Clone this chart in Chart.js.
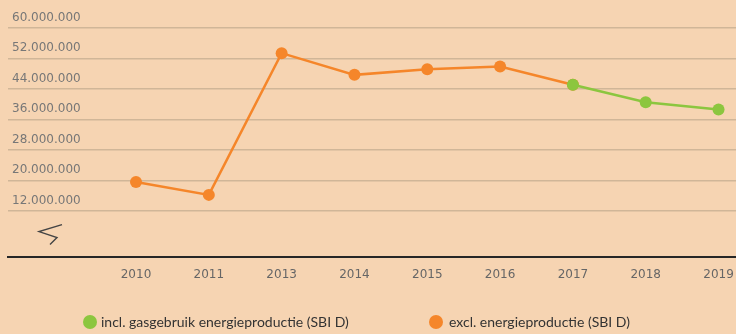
<!DOCTYPE html>
<html>
<head>
<meta charset="utf-8">
<script src="https://cdn.jsdelivr.net/npm/chart.js@4.4.1/dist/chart.umd.min.js"></script>
<style>
  html, body { margin: 0; padding: 0; background: #f6d4b2; }
  #wrap { position: relative; width: 736px; height: 334px; overflow: hidden; }
  #chart { position: absolute; left: 0; top: 0; }
  #legend { position: absolute; left: 0; top: 312px; width: 736px; height: 20px;
            font-family: Lato, "Liberation Sans", sans-serif; font-size: 14px; color: #333; }
  .item { position: absolute; top: 0; height: 20px; line-height: 20px; white-space: nowrap; }
  .dot { position: absolute; top: 3px; width: 14px; height: 14px; border-radius: 50%; }
</style>
</head>
<body>
<div id="wrap">
  <canvas id="chart" width="736" height="334"></canvas>
  <div id="legend"></div>
</div>
<script>
// Years on the horizontal axis (2012 is not in the series)
const categories = ['2010', '2011', '2013', '2014', '2015', '2016', '2017', '2018', '2019'];

// Gas use including energy production (SBI D), known from 2017 on
const inclValues = [null, null, null, null, null, null, 45100000, 40500000, 38600000];

// Gas use excluding energy production (SBI D)
const exclValues = [19600000, 16200000, 53400000, 47700000, 49200000, 49900000, 45100000, null, null];

// Gridline / tick values on the vertical axis
const yTickValues = [12000000, 20000000, 28000000, 36000000, 44000000, 52000000, 60000000];

const seriesNames = ['incl. gasgebruik energieproductie (SBI D)', 'excl. energieproductie (SBI D)'];
const GREEN = '#8cc63f';
const ORANGE = '#f5862a';

function dots(n) {
  return String(Math.round(n)).replace(/\B(?=(\d{3})+(?!\d))/g, '.');
}
function toPoints(arr) {
  return arr.map((v, i) => ({ x: i, y: v }));
}

// Zigzag that marks the cut-off part of the value axis
const axisBreak = {
  id: 'axisBreak',
  afterDraw(chart) {
    const { ctx, chartArea } = chart;
    const x0 = chartArea.left;
    const y0 = chartArea.bottom;
    ctx.save();
    ctx.strokeStyle = '#444';
    ctx.lineWidth = 1.4;
    ctx.lineJoin = 'miter';
    ctx.beginPath();
    ctx.moveTo(x0 + 54, y0 - 32);
    ctx.lineTo(x0 + 31, y0 - 25);
    ctx.lineTo(x0 + 49, y0 - 19);
    ctx.lineTo(x0 + 42, y0 - 12);
    ctx.stroke();
    ctx.restore();
  }
};

const chart = new Chart(document.getElementById('chart'), {
  type: 'line',
  data: {
    datasets: [
      {
        label: seriesNames[0],
        data: toPoints(inclValues),
        borderColor: GREEN,
        backgroundColor: GREEN,
        borderWidth: 2.5,
        pointRadius: 6,
        pointHoverRadius: 6,
        pointBorderWidth: 0,
        tension: 0,
        clip: false
      },
      {
        label: seriesNames[1],
        data: toPoints(exclValues),
        borderColor: ORANGE,
        backgroundColor: ORANGE,
        borderWidth: 2.5,
        pointRadius: 6,
        pointHoverRadius: 6,
        pointBorderWidth: 0,
        tension: 0,
        clip: false
      }
    ]
  },
  options: {
    responsive: false,
    animation: false,
    events: [],
    layout: { autoPadding: false, padding: { left: 0, right: 0, top: 28, bottom: 41 } },
    plugins: {
      legend: { display: false },
      tooltip: { enabled: false }
    },
    scales: {
      x: {
        type: 'linear',
        min: -1.758,
        max: 8.24,
        afterFit: (scale) => { scale.paddingLeft = 0; scale.paddingRight = 0; },
        grid: { display: false, drawTicks: false },
        border: { display: true, color: '#262626', width: 2 },
        ticks: {
          stepSize: 1,
          includeBounds: false,
          autoSkip: false,
          maxRotation: 0,
          padding: 11,
          color: '#666',
          font: { family: '"DejaVu Sans", sans-serif', size: 12 },
          callback: (v) => (Number.isInteger(v) && v >= 0 && v < categories.length) ? categories[v] : ''
        }
      },
      y: {
        min: 0,
        max: 60000000,
        afterBuildTicks: (scale) => { scale.ticks = yTickValues.map(v => ({ value: v })); },
        grid: { color: '#d0b698', lineWidth: 1.5, drawTicks: false },
        border: { display: false },
        ticks: {
          mirror: true,
          padding: 4,
          labelOffset: -10.5,
          color: '#777',
          font: { family: '"DejaVu Sans", sans-serif', size: 12 },
          callback: (v) => dots(v)
        }
      }
    }
  },
  plugins: [axisBreak]
});

// Legend row under the chart
const legend = document.getElementById('legend');
const legendLayout = [{ dot: 90, text: 101 }, { dot: 436, text: 449 }];
chart.data.datasets.forEach((ds, i) => {
  const dot = document.createElement('span');
  dot.className = 'dot';
  dot.style.background = ds.borderColor;
  dot.style.left = (legendLayout[i].dot - 7) + 'px';
  legend.appendChild(dot);
  const item = document.createElement('span');
  item.className = 'item';
  item.style.left = legendLayout[i].text + 'px';
  item.textContent = ds.label;
  legend.appendChild(item);
});
</script>
</body>
</html>
